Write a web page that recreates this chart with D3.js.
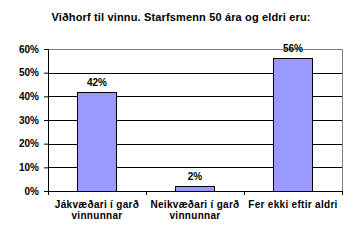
<!DOCTYPE html>
<html>
<head>
<meta charset="utf-8">
<script src="https://cdn.jsdelivr.net/npm/d3@7"></script>
<style>
  body { margin: 0; background: #fff; }
  text { font-family: "Liberation Sans", Arial, sans-serif; }
</style>
</head>
<body>
<div id="chart"></div>
<script>
const title = "Viðhorf til vinnu. Starfsmenn 50 ára og eldri eru:";
const categories = [
  ["Jákvæðari í garð", "vinnunnar"],
  ["Neikvæðari í garð", "vinnunnar"],
  ["Fer ekki eftir aldri"],
];
const values = [42, 2, 56];
const yTicks = [0, 10, 20, 30, 40, 50, 60];

const margin = { top: 49, right: 16, bottom: 50, left: 48 },
  width = 358 - margin.left - margin.right,
  height = 241 - margin.top - margin.bottom;

const svg = d3
  .select("#chart")
  .append("svg")
  .attr("width", 358)
  .attr("height", 241);

svg
  .append("text")
  .attr("x", 181)
  .attr("y", 21)
  .attr("text-anchor", "middle")
  .style("font-size", "11px")
  .style("font-weight", "bold")
  .style("letter-spacing", "0.15px")
  .text(title);

const g = svg.append("g").attr("transform", `translate(${margin.left}, ${margin.top})`);

const x = d3.scaleBand().range([0, width]).domain(d3.range(categories.length)).padding(0);
const y = d3.scaleLinear().range([height, 0]).domain([0, 60]);

// plot border (grey, top and right)
g.append("rect")
  .attr("width", width)
  .attr("height", height)
  .attr("fill", "none")
  .attr("stroke", "#808080")
  .attr("shape-rendering", "crispEdges");

// gridlines
g.selectAll(".grid")
  .data(yTicks.filter((d) => d > 0 && d < 60))
  .join("line")
  .attr("x1", 0)
  .attr("x2", width)
  .attr("y1", (d) => Math.round(y(d)) + 0.5)
  .attr("y2", (d) => Math.round(y(d)) + 0.5)
  .attr("stroke", "#000");

// y axis
const yAxis = g
  .append("g")
  .call(d3.axisLeft(y).tickValues(yTicks).tickSize(4).tickPadding(5).tickFormat((d) => d + "%"));
yAxis.selectAll("text").style("font-size", "10px").style("font-weight", "bold").attr("fill", "#000");
yAxis.selectAll("line,path").attr("stroke", "#000");

// x axis
const xAxis = g
  .append("g")
  .attr("transform", `translate(0, ${height})`)
  .call(d3.axisBottom(x).tickSize(0).tickFormat(""));
xAxis.select(".domain").attr("stroke", "#000");
xAxis.selectAll(".tick").remove();

g.selectAll(".sep")
  .data(d3.range(categories.length + 1))
  .join("line")
  .attr("x1", (i) => Math.round(i * x.bandwidth()) + 0.5)
  .attr("x2", (i) => Math.round(i * x.bandwidth()) + 0.5)
  .attr("y1", height)
  .attr("y2", height + 4)
  .attr("stroke", "#000");

// bars
const bw = x.bandwidth() * 0.4;
g.selectAll(".bar")
  .data(values)
  .join("rect")
  .attr("class", "bar")
  .attr("x", (d, i) => Math.round(x(i) + (x.bandwidth() - bw) / 2) + 0.5)
  .attr("y", (d) => Math.round(y(d)) + 0.5)
  .attr("width", Math.round(bw))
  .attr("height", (d) => Math.round(height - y(d)))
  .attr("fill", "#9999ff")
  .attr("stroke", "#000");

// value labels
g.selectAll(".val")
  .data(values)
  .join("text")
  .attr("x", (d, i) => x(i) + x.bandwidth() / 2)
  .attr("y", (d) => y(d) - 6)
  .attr("text-anchor", "middle")
  .style("font-size", "10px")
  .style("font-weight", "bold")
  .text((d) => d + "%");

// category labels
const cat = g
  .selectAll(".cat")
  .data(categories)
  .join("text")
  .attr("x", (d, i) => x(i) + x.bandwidth() / 2)
  .attr("y", height + 17)
  .attr("text-anchor", "middle")
  .style("font-size", "10px")
  .style("font-weight", "bold")
  .style("letter-spacing", "0.3px");
cat
  .selectAll("tspan")
  .data((d) => d)
  .join("tspan")
  .attr("x", function () {
    return this.parentNode.getAttribute("x");
  })
  .attr("dy", (d, i) => (i === 0 ? 0 : 11))
  .text((d) => d);
</script>
</body>
</html>
